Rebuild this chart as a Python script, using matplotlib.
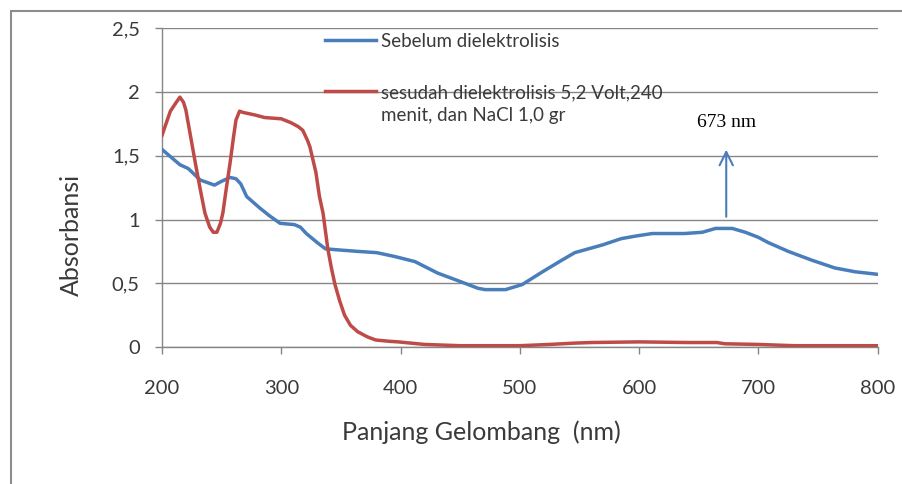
import numpy as np
import matplotlib
matplotlib.use("Agg")
import matplotlib.pyplot as plt
from matplotlib.patches import Rectangle

# UV-Vis absorbance spectra before / after dielectrolysis
wl_before = [200, 210, 215, 222, 232, 244, 250, 257, 262, 266, 271, 282, 290,
             299, 311, 316, 321, 330, 337, 350, 364, 380, 395, 412, 431, 451,
             465, 471, 488, 502, 519, 535, 546, 569, 585, 597, 611, 625, 638,
             653, 664, 678, 689, 700, 708, 725, 745, 764, 781, 800]
abs_before = [1.55, 1.47, 1.43, 1.40, 1.31, 1.27, 1.30, 1.33, 1.32, 1.28, 1.18,
              1.09, 1.03, 0.97, 0.96, 0.94, 0.89, 0.82, 0.77, 0.76, 0.75, 0.74,
              0.71, 0.67, 0.58, 0.51, 0.46, 0.45, 0.45, 0.49, 0.59, 0.68, 0.74,
              0.80, 0.85, 0.87, 0.89, 0.89, 0.89, 0.90, 0.93, 0.93, 0.90, 0.86,
              0.82, 0.75, 0.68, 0.62, 0.59, 0.57]

wl_after = [200, 207, 212, 215, 218, 220, 224, 228, 232, 236, 240, 243, 246,
            249, 251, 254, 257, 260, 262, 265, 268, 278, 286, 300, 308, 314,
            318, 322, 324, 327, 329, 332, 335, 339, 342, 345, 349, 353, 358,
            364, 372, 379, 390, 398, 420, 450, 500, 525, 545, 560, 600, 640,
            665, 672, 700, 730, 800]
abs_after = [1.66, 1.85, 1.92, 1.96, 1.92, 1.86, 1.65, 1.44, 1.24, 1.05, 0.94,
             0.90, 0.90, 0.97, 1.05, 1.25, 1.44, 1.65, 1.78, 1.85, 1.84, 1.82,
             1.80, 1.79, 1.76, 1.73, 1.70, 1.62, 1.57, 1.45, 1.37, 1.18, 1.05,
             0.77, 0.62, 0.49, 0.36, 0.25, 0.17, 0.12, 0.08, 0.055, 0.045, 0.04,
             0.02, 0.01, 0.01, 0.02, 0.03, 0.035, 0.04, 0.035, 0.035, 0.025,
             0.02, 0.01, 0.01]

label_before = "Sebelum dielektrolisis"
label_after = "sesudah dielektrolisis 5,2 Volt,240\nmenit, dan NaCl 1,0 gr"

peak_wl = 673
peak_abs = 1.0
arrow_top = 1.57
peak_text = "673 nm"

x_ticks = [200, 300, 400, 500, 600, 700, 800]
y_ticks = [0, 0.5, 1, 1.5, 2, 2.5]
y_tick_labels = ["0", "0,5", "1", "1,5", "2", "2,5"]

plt.rcParams["font.family"] = ["Lato", "DejaVu Sans"]

blue = "#4a7ebb"
red = "#be4b48"
grid_c = "#868686"
txt_c = "#3a3a3a"

fig = plt.figure(figsize=(9.02, 4.84), dpi=100)
ax = fig.add_axes([0.1796, 0.2831, 0.7935, 0.6584])

ax.plot(wl_before, abs_before, color=blue, lw=2.5, label=label_before, zorder=3)
ax.plot(wl_after, abs_after, color=red, lw=2.5, label=label_after, zorder=3)

ax.set_xlim(200, 800)
ax.set_ylim(0, 2.5)
ax.set_xticks(x_ticks)
ax.set_yticks(y_ticks)
ax.set_yticklabels(y_tick_labels)

ax.yaxis.grid(True, color=grid_c, lw=1)
ax.set_axisbelow(True)
for s in ["top", "right"]:
    ax.spines[s].set_visible(False)
for s in ["left", "bottom"]:
    ax.spines[s].set_color(grid_c)
    ax.spines[s].set_linewidth(1)
ax.tick_params(axis="x", direction="out", length=5, width=1, color=grid_c,
               pad=19, labelsize=14.5, labelcolor=txt_c)
ax.tick_params(axis="y", direction="out", length=5, width=1, color=grid_c,
               pad=11, labelsize=14.5, labelcolor=txt_c)

ax.set_xlabel("Panjang Gelombang  (nm)", fontsize=18, color=txt_c)
ax.xaxis.set_label_coords(0.4464, -0.23)
ax.set_ylabel("Absorbansi", fontsize=18, color=txt_c)
ax.yaxis.set_label_coords(-0.11, 0.35)

# peak marker for the 673 nm band
ax.annotate("", xy=(peak_wl, arrow_top), xytext=(peak_wl, peak_abs),
            arrowprops=dict(arrowstyle="->", color=blue, lw=1.5,
                            mutation_scale=24))
ax.text(peak_wl, 1.765, peak_text, ha="center", va="center", fontsize=14,
        family="Liberation Serif", color="black")

leg = ax.legend(loc="upper left", bbox_to_anchor=(0.2278, 0.985),
                frameon=False, fontsize=13.5, borderpad=0, borderaxespad=0,
                handlelength=2.7, handletextpad=0.3, labelspacing=1.85)
# put the legend key next to the first line of a wrapped label
for col in leg._legend_handle_box.get_children():
    for item in col.get_children():
        item.align = "top"
for t in leg.get_texts():
    t.set_color(txt_c)
    t.set_linespacing(1.35)

# outer chart border (left and top edges only visible)
fig.add_artist(Rectangle((11 / 902, -0.5), 2.0, (484 - 11) / 484 + 0.5,
                         transform=fig.transFigure, fill=False,
                         edgecolor="#8c8c8c", lw=1.5))

fig.savefig("out.png", dpi=100)
